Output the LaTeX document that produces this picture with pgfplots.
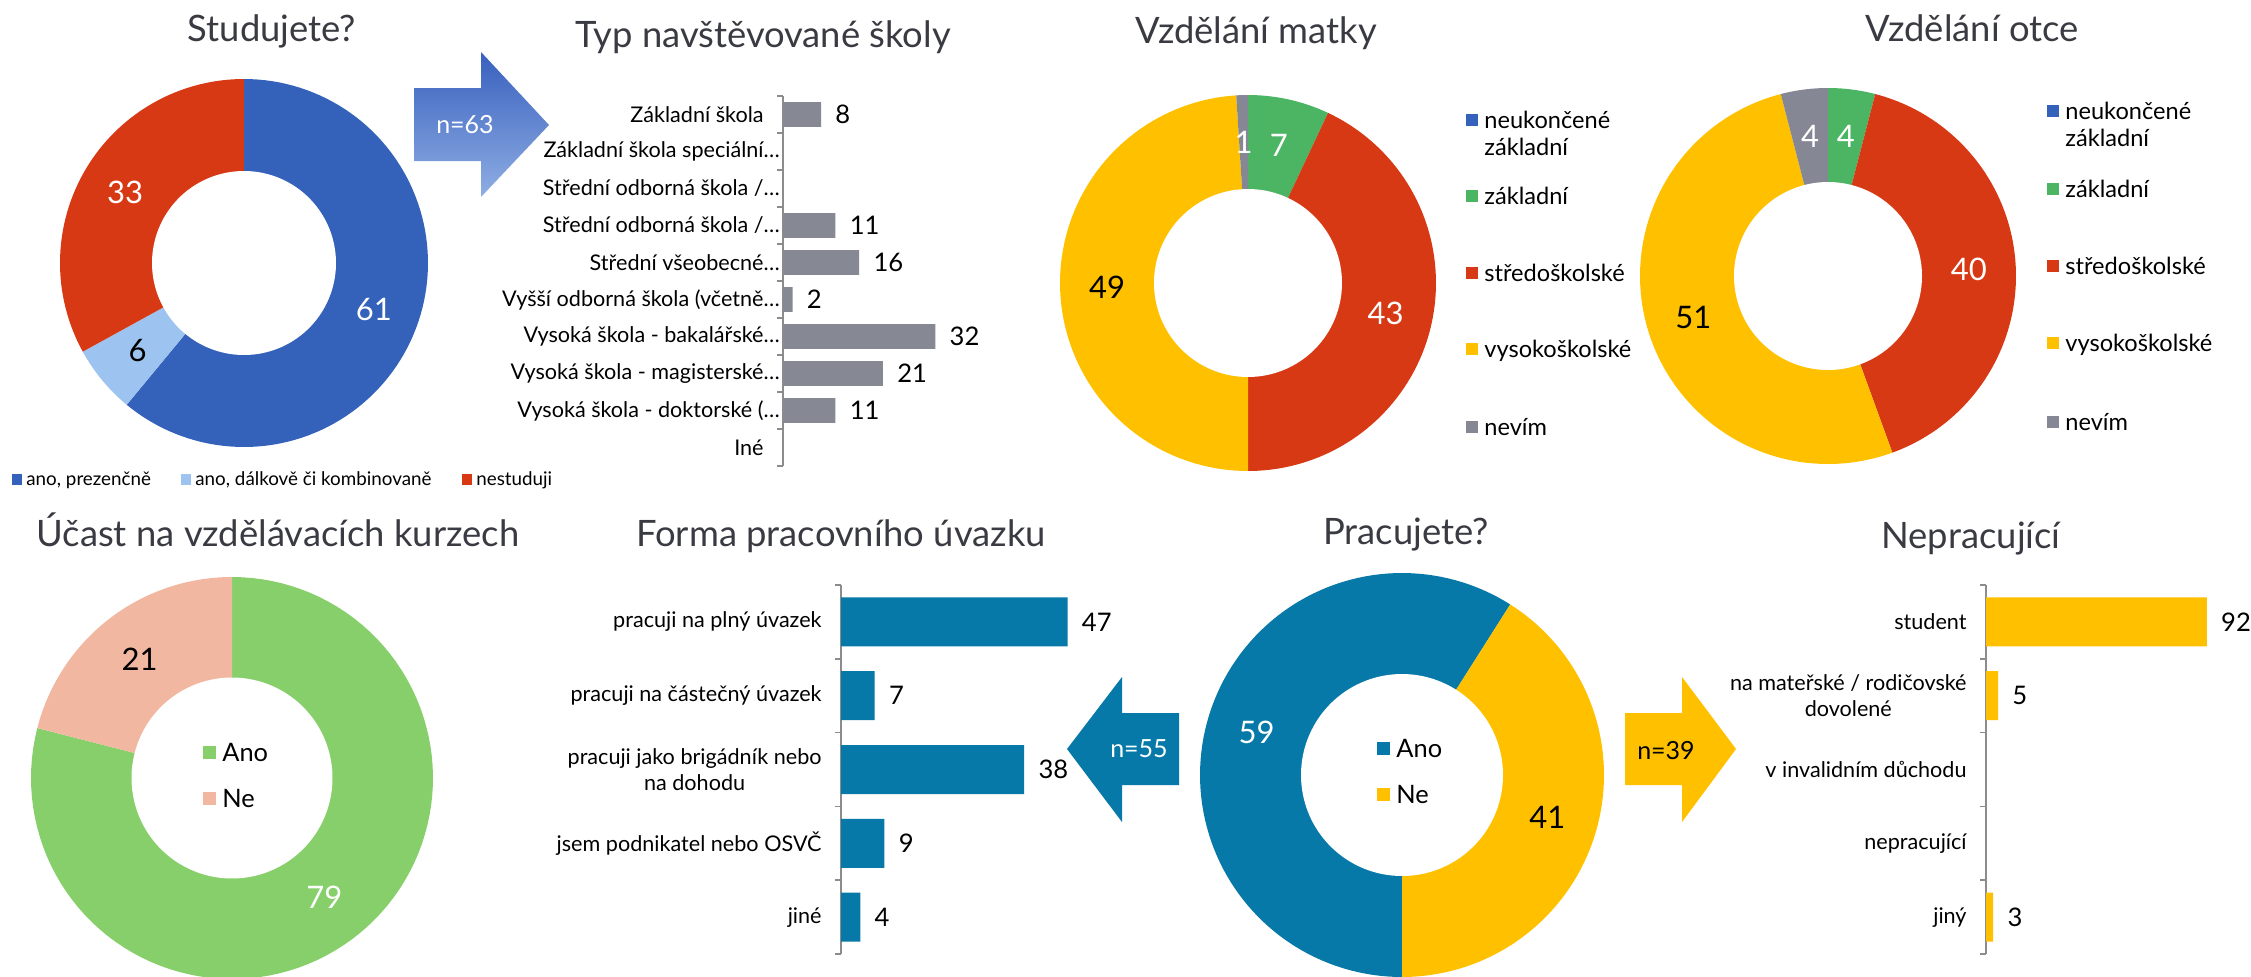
\documentclass[border=0pt]{standalone}
\usepackage{fontspec}
\setmainfont{Lato}
\usepackage{pgfplots}
\pgfplotsset{compat=1.18}

\definecolor{ttl}{HTML}{3A3B42}
\definecolor{sblue}{HTML}{3462BA}
\definecolor{slight}{HTML}{9DC3F0}
\definecolor{sred}{HTML}{D83915}
\definecolor{sgreen}{HTML}{4CB563}
\definecolor{syellow}{HTML}{FFC000}
\definecolor{sgray}{HTML}{858894}
\definecolor{barg}{HTML}{868893}
\definecolor{pblue}{HTML}{0779A8}
\definecolor{ugreen}{HTML}{86CF6A}
\definecolor{upink}{HTML}{F2B7A0}
\definecolor{axg}{HTML}{8C8C8C}
\definecolor{arrtop}{HTML}{3860BE}
\definecolor{arrbot}{HTML}{8FAEE3}

\newcommand{\ttlfont}{\fontsize{18.2}{21}\selectfont}
\newcommand{\catfont}{\fontsize{10.8}{12.8}\selectfont}
\newcommand{\valfont}{\fontsize{12.8}{14}\selectfont}
\newcommand{\dlfont}{\fontsize{15.5}{17}\selectfont}
\newcommand{\lgfont}{\fontsize{11.8}{13}\selectfont}
\newcommand{\slgfont}{\fontsize{9.4}{11}\selectfont}
\newcommand{\anfont}{\fontsize{12.7}{15}\selectfont}
\newcommand{\arfont}{\fontsize{12.5}{14}\selectfont}

% slice: colour, cumulative start, cumulative end, total  (clockwise from 12 o'clock)
\newcommand{\slice}[4]{\addplot[fill=#1, draw=none, domain=#2*360/#4:#3*360/#4, samples=100, variable=\t] ({sin(\t)},{cos(\t)}) -- (axis cs:0,0) -- cycle;}
\newcommand{\hole}{\addplot[fill=white, draw=none, domain=0:360, samples=160, variable=\t] ({0.5*sin(\t)},{0.5*cos(\t)}) -- cycle;}

\pgfplotsset{
  donut/.style={hide axis, scale only axis, xmin=-1, xmax=1, ymin=-1, ymax=1,
    clip=false, anchor=center, width=#1, height=#1},
  barax/.style={scale only axis, anchor=north west, hide x axis, axis y line*=left,
    y dir=reverse, xmin=0, enlargelimits=false, clip=false,
    axis line style={draw=axg, line width=0.75pt},
    major tick length=0pt, minor tick length=3pt, tick align=outside,
    ytick style={draw=axg, line width=0.75pt},
    yticklabel style={font=\catfont, anchor=east, align=center, inner sep=0pt, xshift=-9.5pt},
    /pgf/number format/assume math mode=true,
    nodes near coords, point meta=x,
    nodes near coords style={font=\valfont, anchor=west, inner sep=0pt, xshift=7pt, text=black}},
}

\begin{document}
\begin{tikzpicture}[x=0.5pt, y=-0.5pt]
\path[use as bounding box] (0,0) rectangle (2251,976);

% ---------------- titles ----------------
\begin{scope}[every node/.style={anchor=base, text=ttl, font=\ttlfont}]
\node at (272,41) {Studujete?};
\node at (763,47) {Typ navštěvované školy};
\node at (1256,43) {Vzdělání matky};
\node at (1972,41) {Vzdělání otce};
\node at (278,546) {Účast na vzdělávacích kurzech};
\node at (841,546) {Forma pracovního úvazku};
\node at (1406,544) {Pracujete?};
\node at (1971,548) {Nepracující};
\end{scope}

% ---------------- Studujete? ----------------
\begin{axis}[donut=184pt, at={(122pt,-131.5pt)}]
\slice{sblue}{0}{61}{100}
\slice{slight}{61}{67}{100}
\slice{sred}{67}{100}{100}
\hole
\node[font=\dlfont, text=white] at (axis cs:0.706,-0.254) {61};
\node[font=\dlfont, text=black] at (axis cs:-0.578,-0.478) {6};
\node[font=\dlfont, text=white] at (axis cs:-0.646,0.382) {33};
\end{axis}
\fill[sblue] (12,474) rectangle (22,485);
\node[anchor=base west, font=\slgfont, inner sep=0pt] at (26,485) {ano, prezenčně};
\fill[slight] (181,474) rectangle (191,485);
\node[anchor=base west, font=\slgfont, inner sep=0pt] at (195,485) {ano, dálkově či kombinovaně};
\fill[sred] (462,474) rectangle (472,485);
\node[anchor=base west, font=\slgfont, inner sep=0pt] at (476,485) {nestuduji};

% arrow n=63
\shade[top color=arrtop, bottom color=arrbot] (414,88) -- (481,88) -- (481,52) -- (549,125) -- (481,197) -- (481,161) -- (414,161) -- cycle;
\node[font=\arfont, text=white] at (465,125) {n=63};

% ---------------- Typ navštěvované školy ----------------
\begin{axis}[barax, at={(391.5pt,-48pt)}, width=95.2pt, height=185pt, xmax=40,
  ymin=-0.5, ymax=9.5, ytick={0,...,9}, minor ytick={-0.5,0.5,...,9.5},
  yticklabels={Základní škola, Základní škola speciální\rlap{…}, Střední odborná škola /\rlap{…}, Střední odborná škola /\rlap{…}, Střední všeobecné\rlap{…}, Vyšší odborná škola (včetně\rlap{…}, Vysoká škola - bakalářské\rlap{…}, Vysoká škola - magisterské\rlap{…}, Vysoká škola - doktorské (\rlap{…}, Iné}]
\addplot[xbar, fill=barg, draw=none, bar width=12.35pt, bar shift=0pt]
  coordinates {(8,0) (11,3) (16,4) (2,5) (32,6) (21,7) (11,8)};
\end{axis}

% ---------------- Vzdělání matky ----------------
\begin{axis}[donut=188pt, at={(624pt,-141.5pt)}]
\slice{sgreen}{0}{7}{100}
\slice{sred}{7}{50}{100}
\slice{syellow}{50}{99}{100}
\slice{sgray}{99}{100}{100}
\hole
\node[font=\dlfont, text=white] at (axis cs:-0.024,0.75) {1};
\node[font=\dlfont, text=white] at (axis cs:0.164,0.732) {7};
\node[font=\dlfont, text=white] at (axis cs:0.732,-0.164) {43};
\node[font=\dlfont, text=black] at (axis cs:-0.75,-0.024) {49};
\end{axis}
\begin{scope}[every node/.style={anchor=base west, font=\lgfont, inner sep=0pt}]
\fill[sblue] (1466,114) rectangle (1478,126);
\node at (1484,128) {neukončené};
\node at (1484,155) {základní};
\fill[sgreen] (1466,190) rectangle (1478,202);
\node at (1484,204) {základní};
\fill[sred] (1466,267) rectangle (1478,279);
\node at (1484,281) {středoškolské};
\fill[syellow] (1466,343) rectangle (1478,355);
\node at (1484,357) {vysokoškolské};
\fill[sgray] (1466,421) rectangle (1478,433);
\node at (1484,435) {nevím};
\end{scope}

% ---------------- Vzdělání otce ----------------
\begin{axis}[donut=188pt, at={(914pt,-138pt)}]
\slice{sgreen}{0}{4}{99}
\slice{sred}{4}{44}{99}
\slice{syellow}{44}{95}{99}
\slice{sgray}{95}{99}{99}
\hole
\node[font=\dlfont, text=white] at (axis cs:0.095,0.744) {4};
\node[font=\dlfont, text=white] at (axis cs:-0.095,0.744) {4};
\node[font=\dlfont, text=white] at (axis cs:0.749,0.036) {40};
\node[font=\dlfont, text=black] at (axis cs:-0.716,-0.223) {51};
\end{axis}
\begin{scope}[every node/.style={anchor=base west, font=\lgfont, inner sep=0pt}]
\fill[sblue] (2047,105) rectangle (2059,117);
\node at (2065,119) {neukončené};
\node at (2065,146) {základní};
\fill[sgreen] (2047,183) rectangle (2059,195);
\node at (2065,197) {základní};
\fill[sred] (2047,260) rectangle (2059,272);
\node at (2065,274) {středoškolské};
\fill[syellow] (2047,337) rectangle (2059,349);
\node at (2065,351) {vysokoškolské};
\fill[sgray] (2047,416) rectangle (2059,428);
\node at (2065,430) {nevím};
\end{scope}

% ---------------- Účast na vzdělávacích kurzech ----------------
\begin{axis}[donut=201pt, at={(116pt,-389pt)}]
\slice{ugreen}{0}{79}{100}
\slice{upink}{79}{100}{100}
\hole
\node[font=\dlfont, text=white] at (axis cs:0.46,-0.593) {79};
\node[font=\dlfont, text=black] at (axis cs:-0.46,0.593) {21};
\end{axis}
\fill[ugreen] (203,746) rectangle (216,759);
\node[anchor=base west, font=\anfont, inner sep=0pt] at (222,761) {Ano};
\fill[upink] (203,792) rectangle (216,805);
\node[anchor=base west, font=\anfont, inner sep=0pt] at (222,807) {Ne};

% ---------------- Forma pracovního úvazku ----------------
\begin{axis}[barax, at={(420.5pt,-292.5pt)}, width=144.6pt, height=184.5pt, xmax=60,
  ymin=-0.5, ymax=4.5, ytick={0,...,4}, minor ytick={-0.5,0.5,...,4.5},
  yticklabels={pracuji na plný úvazek, pracuji na částečný úvazek, {pracuji jako brigádník nebo\\na dohodu}, jsem podnikatel nebo OSVČ, jiné}]
\addplot[xbar, fill=pblue, draw=none, bar width=24.5pt, bar shift=0pt]
  coordinates {(47,0) (7,1) (38,2) (9,3) (4,4)};
\end{axis}

% arrow n=55
\fill[pblue] (1179,713) -- (1122,713) -- (1122,677) -- (1067,749) -- (1122,822) -- (1122,785) -- (1179,785) -- cycle;
\node[font=\arfont, text=white] at (1139,749) {n=55};

% ---------------- Pracujete? ----------------
\begin{axis}[donut=202pt, at={(701pt,-387.5pt)}]
\slice{pblue}{50}{109}{100}
\slice{syellow}{9}{50}{100}
\hole
\node[font=\dlfont, text=white] at (axis cs:-0.72,0.209) {59};
\node[font=\dlfont, text=black] at (axis cs:0.72,-0.209) {41};
\end{axis}
\fill[pblue] (1377,742) rectangle (1390,755);
\node[anchor=base west, font=\anfont, inner sep=0pt] at (1396,757) {Ano};
\fill[syellow] (1377,788) rectangle (1390,801);
\node[anchor=base west, font=\anfont, inner sep=0pt] at (1396,803) {Ne};

% arrow n=39
\fill[syellow] (1625,713) -- (1682,713) -- (1682,677) -- (1736,749) -- (1682,822) -- (1682,785) -- (1625,785) -- cycle;
\node[font=\arfont, text=black] at (1666,751) {n=39};

% ---------------- Nepracující ----------------
\begin{axis}[barax, at={(993pt,-292.5pt)}, width=120pt, height=184.5pt, xmax=100,
  ymin=-0.5, ymax=4.5, ytick={0,...,4}, minor ytick={-0.5,0.5,...,4.5},
  yticklabels={student, {na mateřské / rodičovské\\dovolené}, v invalidním důchodu, nepracující, jiný}]
\addplot[xbar, fill=syellow, draw=none, bar width=24.5pt, bar shift=0pt]
  coordinates {(92,0) (5,1) (3,4)};
\end{axis}

\end{tikzpicture}
\end{document}
